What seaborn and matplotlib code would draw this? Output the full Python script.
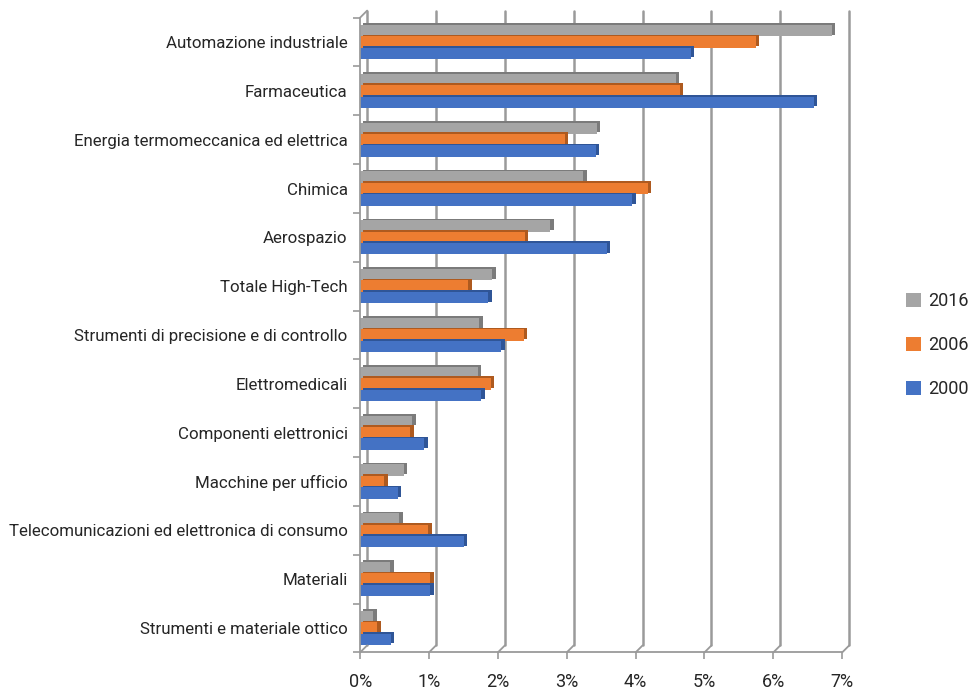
import matplotlib
matplotlib.use("Agg")
import matplotlib.pyplot as plt
import matplotlib.transforms as mtransforms
import matplotlib.patheffects as pe
from matplotlib.lines import Line2D
from matplotlib.patches import Patch
import numpy as np
import pandas as pd
import seaborn as sns

categories = [
    "Automazione industriale",
    "Farmaceutica",
    "Energia termomeccanica ed elettrica",
    "Chimica",
    "Aerospazio",
    "Totale High-Tech",
    "Strumenti di precisione e di controllo",
    "Elettromedicali",
    "Componenti elettronici",
    "Macchine per ufficio",
    "Telecomunicazioni ed elettronica di consumo",
    "Materiali",
    "Strumenti e materiale ottico",
]
years = ["2016", "2006", "2000"]
v2016 = [6.85, 4.58, 3.44, 3.24, 2.76, 1.92, 1.73, 1.71, 0.76, 0.63, 0.57, 0.44, 0.19]
v2006 = [5.75, 4.64, 2.97, 4.18, 2.39, 1.57, 2.38, 1.90, 0.73, 0.35, 0.99, 1.02, 0.25]
v2000 = [4.80, 6.59, 3.42, 3.95, 3.58, 1.86, 2.05, 1.76, 0.93, 0.55, 1.51, 1.02, 0.45]
colors = {"2016": "#A5A5A5", "2006": "#ED7D31", "2000": "#4472C4"}
xticks = list(range(0, 8))
xticklabels = [f"{t}%" for t in xticks]

df = pd.DataFrame({
    "Settore": categories * 3,
    "Anno": ["2016"] * 13 + ["2006"] * 13 + ["2000"] * 13,
    "Quota": v2016 + v2006 + v2000,
})

sns.set_theme(style="white")
plt.rcParams["font.family"] = ["Roboto", "DejaVu Sans"]

fig = plt.figure(figsize=(9.72, 6.93), dpi=100)
ax = fig.add_axes([0.3705, 0.0586, 0.496, 0.916])

sns.barplot(data=df, x="Quota", y="Settore", hue="Anno", order=categories,
            hue_order=years, palette=colors, orient="h", width=0.7,
            gap=0, saturation=1, ax=ax, legend=False, errorbar=None,
            linewidth=0)

# darker end face for the 3D look
dark = {"2016": "#7b7b7b", "2006": "#ae5a1f", "2000": "#2f5597"}
for cont, yr in zip(ax.containers, years):
    for bar in cont:
        bar.set_path_effects([
            pe.SimplePatchShadow(offset=(2.4, 1.2), shadow_rgbFace=dark[yr], alpha=1),
            pe.Normal(),
        ])

ax.set_xlim(0, 7)
ax.set_ylim(12.5, -0.5)
ax.set_xlabel("")
ax.set_ylabel("")

for s in ["top", "right"]:
    ax.spines[s].set_visible(False)
for s in ["left", "bottom"]:
    ax.spines[s].set_color("#9a9a9a")
    ax.spines[s].set_linewidth(1.3)

ax.set_xticks(xticks)
ax.set_xticklabels(xticklabels)
ax.tick_params(axis="x", length=5, width=1.2, color="#9a9a9a", pad=10,
               labelsize=13, labelcolor="#262626", bottom=True)
ax.set_yticks(range(len(categories)))
ax.set_yticklabels(categories)
ax.tick_params(axis="y", length=0, pad=9, labelsize=12.2, labelcolor="#262626")
ax.set_yticks(np.arange(-0.5, 13, 1), minor=True)
ax.tick_params(axis="y", which="minor", length=5, width=1.2, color="#9a9a9a", left=True)

# back wall gridlines, shifted up and right to suggest depth
depth = mtransforms.ScaledTranslation(7 / 100, 7 / 100, fig.dpi_scale_trans)
xtrans = ax.get_xaxis_transform()
for t in xticks:
    ax.add_line(Line2D([t, t], [0, 1], transform=xtrans + depth, color="#9a9a9a",
                       lw=1.8, zorder=0.5, clip_on=False))

# floor diagonals and the top edge of the left wall
fig.canvas.draw()
for t in xticks:
    x0, y0 = ax.transData.transform((t, 12.5))
    fig.add_artist(Line2D([x0, x0 + 7], [y0, y0 + 7], transform=None,
                          color="#9a9a9a", lw=1.3))
x0, y1 = ax.transData.transform((0, -0.5))
fig.add_artist(Line2D([x0, x0 + 7], [y1, y1 + 7], transform=None,
                      color="#9a9a9a", lw=1.3))

handles = [Patch(facecolor=colors[y], edgecolor="none", label=y) for y in years]
fig.legend(handles=handles, loc="center left", bbox_to_anchor=(0.923, 0.502),
           frameon=False, fontsize=13, handlelength=0.8, handleheight=0.8,
           handletextpad=0.4, labelspacing=1.45, borderpad=0)

fig.savefig("out.png", dpi=100)
